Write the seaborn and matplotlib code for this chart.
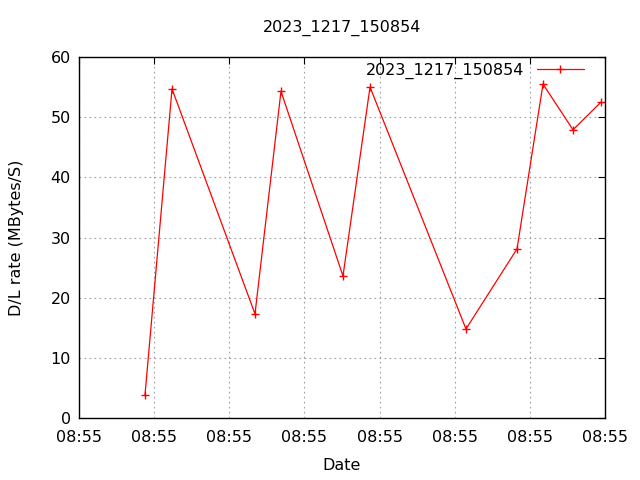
import matplotlib
matplotlib.use("Agg")
import matplotlib.pyplot as plt
import seaborn as sns
import pandas as pd

# data (seconds offset within 08:55 minute)
t_sec = [0.878, 1.238, 2.342, 2.688, 3.513, 3.873, 5.150, 5.829, 6.175, 6.574, 6.947]
rate = [3.8, 54.7, 17.3, 54.3, 23.6, 55.0, 14.8, 28.1, 55.5, 47.9, 52.5]
xticks = [0, 1, 2, 3, 4, 5, 6, 7]
xtick_labels = ["08:55"] * 8
yticks = [0, 10, 20, 30, 40, 50, 60]
series_name = "2023_1217_150854"

df = pd.DataFrame({"t": t_sec, "rate": rate})

sns.set_style("white")
plt.rcParams['font.family'] = ['DejaVu Sans']
plt.rcParams['text.color'] = 'black'
plt.rcParams['axes.labelcolor'] = 'black'
fig = plt.figure(figsize=(6.4, 4.8), dpi=100)
ax = fig.add_axes([79/640, 62/480, (605-79)/640, (418-57)/480])

sns.lineplot(data=df, x="t", y="rate", ax=ax, color="red", linewidth=0.9,
             marker="+", markersize=5.5, markeredgewidth=1.0, markeredgecolor="red",
             label=series_name)

ax.set_xlim(0, 7)
ax.set_ylim(0, 60)
ax.set_xticks(xticks)
ax.set_xticklabels(xtick_labels)
ax.set_yticks(yticks)
ax.grid(True, linestyle=(0, (1.5, 3)), color="#a0a0a0", linewidth=0.8)
ax.tick_params(axis="x", pad=9)
ax.tick_params(axis="y", pad=6)
ax.tick_params(direction="in", length=5, width=0.8, top=True, right=True,
               labelsize=11.5, colors="black")
for s in ax.spines.values():
    s.set_color("black")
    s.set_linewidth(1.0)
ax.set_xlabel("Date", fontsize=11.5, labelpad=9, color="black")
ax.set_ylabel("D/L rate (MBytes/S)", fontsize=11.5, labelpad=19, color="black")
ax.set_title(series_name, fontsize=11.5, pad=18, color="black")
leg = ax.legend(loc="upper right", bbox_to_anchor=(0.967, 0.994), frameon=False,
                markerfirst=False, fontsize=11.5, handlelength=3.0,
                borderaxespad=0.0, handletextpad=0.8, borderpad=0.2)

fig.savefig("out.png", dpi=100)
